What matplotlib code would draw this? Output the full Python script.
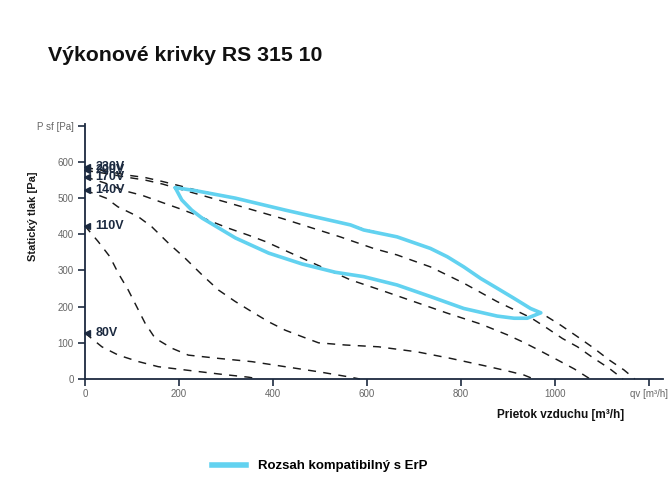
import matplotlib
matplotlib.use("Agg")

import matplotlib.pyplot as plt
from matplotlib.lines import Line2D

# ------------------------------------------------------------------ #
# Data                                   #
# ------------------------------------------------------------------ #
TITLE = "Výkonové krivky RS 315 10"
Y_LABEL = "Statický tlak [Pa]"
X_LABEL = "Prietok vzduchu [m³/h]"
LEGEND_LABEL = "Rozsah kompatibilný s ErP"

x_ticks = [0, 200, 400, 600, 800, 1000, 1200]
x_tick_labels = ["0", "200", "400", "600", "800", "1000", "qv [m³/h]"]
y_ticks = [0, 100, 200, 300, 400, 500, 600, 700]
y_tick_labels = ["0", "100", "200", "300", "400", "500", "600", "P sf [Pa]"]

voltages = ["230V", "200V", "170V", "140V", "110V", "80V"]

flow_230 = [0, 45, 88, 128, 165, 202, 234, 320, 426, 565, 593, 664, 735, 771,
            806, 842, 877, 913, 948, 970, 1012, 1048, 1083, 1115, 1147, 1170]
press_230 = [585, 575, 564, 557, 546, 534, 523, 500, 467, 426, 414, 393, 361, 338,
             310, 278, 251, 223, 196, 183, 149, 117, 85, 53, 25, 0]

flow_200 = [0, 45, 88, 128, 165, 202, 300, 419, 543, 614, 664, 735, 806, 877,
            948, 984, 1016, 1048, 1083, 1115, 1145]
press_200 = [577, 568, 558, 550, 539, 525, 489, 444, 393, 361, 343, 310, 265, 214,
             170, 140, 112, 89, 57, 30, 0]

flow_170 = [0, 42, 85, 121, 160, 199, 238, 270, 305, 347, 384, 486, 565, 629,
            700, 771, 842, 899, 934, 970, 1005, 1041, 1075]
press_170 = [559, 542, 520, 508, 490, 472, 453, 435, 417, 398, 380, 320, 274, 246,
             214, 182, 152, 122, 101, 77, 53, 28, 0]

flow_140 = [0, 45, 70, 113, 142, 178, 213, 249, 284, 320, 355, 391, 426, 462,
            497, 554, 625, 707, 778, 849, 900, 934, 955]
press_140 = [522, 500, 476, 449, 421, 375, 334, 288, 246, 214, 186, 158, 135, 117,
             100, 94, 89, 75, 57, 37, 22, 11, 0]

flow_110 = [0, 28, 53, 71, 92, 110, 128, 149, 185, 220, 284, 355, 426, 497, 561, 585]
press_110 = [423, 380, 338, 292, 246, 200, 154, 113, 85, 66, 57, 48, 34, 20, 6, 0]

flow_80 = [0, 36, 71, 114, 156, 213, 284, 348, 370]
press_80 = [127, 89, 66, 48, 34, 25, 14, 5, 0]

# ErP compatible region (closed outline: upper edge then lower edge back)
erp_flow = [192, 234, 320, 426, 565, 593, 664, 735, 771, 806, 842, 877, 913, 948, 970,
            941, 913, 877, 806, 735, 664, 593, 533, 462, 391, 320, 284, 249, 227, 206, 192]
erp_press = [529, 521, 500, 467, 426, 412, 393, 361, 338, 310, 278, 251, 223, 195, 183,
             168, 168, 174, 195, 228, 260, 283, 295, 318, 348, 390, 418, 445, 467, 495, 529]

curves = [
    (flow_230, press_230),
    (flow_200, press_200),
    (flow_170, press_170),
    (flow_140, press_140),
    (flow_110, press_110),
    (flow_80, press_80),
]

# ------------------------------------------------------------------ #
# Styling                                                             #
# ------------------------------------------------------------------ #
NAVY = "#1c2a40"
ERP_BLUE = "#62d2f0"
TICK_GREY = "#666666"
FONT = ["Liberation Sans", "DejaVu Sans"]

plt.rcParams["font.family"] = FONT

fig = plt.figure(figsize=(6.72, 5.0), dpi=100)
ax = fig.add_axes([85 / 672, 1 - 379 / 500, (663 - 85) / 672, (379 - 124) / 500])

# Fan curves per voltage
for (flow, press), name in zip(curves, voltages):
    ax.plot(flow, press, color="#1a1a1a", linewidth=1.05,
            linestyle=(0, (5.5, 5)), zorder=2, clip_on=False)
    ax.plot(flow[0] + 5, press[0], marker="<", color=NAVY, markersize=5,
            linestyle="none", zorder=4, clip_on=False)
    ax.text(flow[0] + 22, press[0], name, color=NAVY, fontsize=9,
            fontweight="bold", ha="left", va="center", zorder=5)

# ErP region outline
ax.plot(erp_flow, erp_press, color=ERP_BLUE, linewidth=2.6,
        solid_joinstyle="round", solid_capstyle="round", zorder=3)

ax.set_xlim(0, 1230)
ax.set_ylim(0, 705)
ax.set_xticks(x_ticks)
ax.set_xticklabels(x_tick_labels)
ax.set_yticks(y_ticks)
ax.set_yticklabels(y_tick_labels)

for side in ("top", "right"):
    ax.spines[side].set_visible(False)
for side in ("left", "bottom"):
    ax.spines[side].set_color(NAVY)
    ax.spines[side].set_linewidth(1.3)

ax.tick_params(axis="both", colors=NAVY, labelcolor=TICK_GREY,
               labelsize=7, length=5, width=1.2)
ax.tick_params(axis="x", pad=2)
ax.tick_params(axis="y", pad=3)

# ------------------------------------------------------------------ #
# Texts                                                               #
# ------------------------------------------------------------------ #
fig.text(48 / 672, 1 - 61 / 500, TITLE, fontsize=15.3, fontweight="bold",
         color="#111111", ha="left", va="baseline")
fig.text(33 / 672, 1 - 216 / 500, Y_LABEL, fontsize=8, fontweight="bold",
         color="#1a1a1a", rotation=90, ha="center", va="center")
fig.text(624 / 672, 1 - 415 / 500, X_LABEL, fontsize=8.5, fontweight="bold",
         color="#111111", ha="right", va="center")

legend_handle = Line2D([], [], color=ERP_BLUE, linewidth=4)
fig.legend(handles=[legend_handle], labels=[LEGEND_LABEL],
           loc="center left", bbox_to_anchor=(212 / 672, 1 - 466 / 500),
           frameon=False, handlelength=2.6, handletextpad=0.9,
           borderpad=0, borderaxespad=0,
           prop={"family": FONT, "weight": "bold", "size": 9.5})

fig.savefig("out.png", dpi=100)
plt.close(fig)
